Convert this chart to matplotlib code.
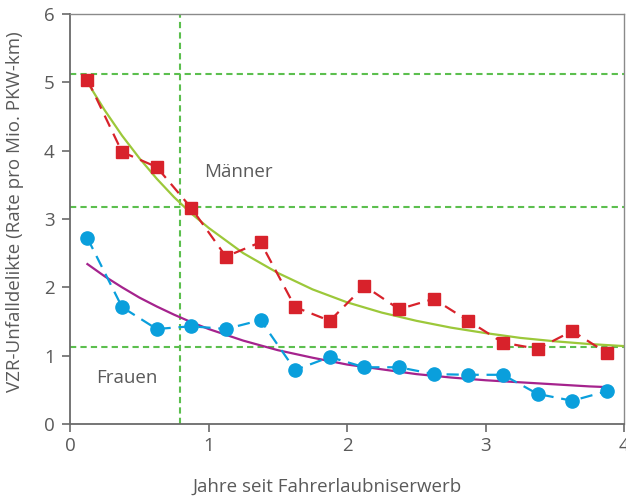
import numpy as np
import matplotlib
matplotlib.use("Agg")
import matplotlib.pyplot as plt

plt.rcParams["font.family"] = ["Open Sans", "DejaVu Sans"]

# quarterly means, years since licence
years = [0.125, 0.375, 0.625, 0.875, 1.125, 1.375, 1.625, 1.875,
         2.125, 2.375, 2.625, 2.875, 3.125, 3.375, 3.625, 3.875]
maenner = [5.04, 3.98, 3.76, 3.16, 2.45, 2.66, 1.71, 1.51,
           2.02, 1.68, 1.83, 1.51, 1.19, 1.10, 1.36, 1.04]
frauen = [2.72, 1.71, 1.39, 1.43, 1.39, 1.52, 0.79, 0.98,
          0.83, 0.83, 0.73, 0.72, 0.72, 0.44, 0.34, 0.48]

# trend curves
trend_m_x = [0.125, 0.25, 0.375, 0.5, 0.625, 0.75, 0.875, 1.0, 1.25, 1.5, 1.75,
             2.0, 2.25, 2.5, 2.75, 3.0, 3.25, 3.5, 3.75, 4.0]
trend_m_y = [5.00, 4.59, 4.22, 3.89, 3.59, 3.32, 3.08, 2.87, 2.50, 2.21, 1.97,
             1.78, 1.63, 1.51, 1.41, 1.33, 1.26, 1.21, 1.17, 1.14]
trend_f_x = [0.125, 0.25, 0.375, 0.5, 0.625, 0.75, 0.875, 1.0, 1.25, 1.5, 1.75,
             2.0, 2.25, 2.5, 2.75, 3.0, 3.25, 3.5, 3.75, 3.875]
trend_f_y = [2.34, 2.16, 2.00, 1.85, 1.72, 1.60, 1.49, 1.39, 1.22, 1.08, 0.97,
             0.87, 0.80, 0.73, 0.68, 0.64, 0.61, 0.58, 0.55, 0.54]

ref_x = 0.794
ref_y = [5.12, 3.17, 1.13]

red = "#d8222b"
blue = "#0a9fdc"
gray = "#5a5a5a"
guide = "#5cbf4e"

fig = plt.figure(figsize=(6.26, 4.98), dpi=100)
ax = fig.add_axes([0.112, 0.1486, 0.885, 0.8234])

for yv in ref_y:
    ax.axhline(yv, color=guide, lw=1.5, dashes=(3, 2), zorder=1)
ax.axvline(ref_x, color=guide, lw=1.5, dashes=(3, 2), zorder=1)

ax.plot(trend_m_x, trend_m_y, color="#9cc83a", lw=1.6, zorder=2)
ax.plot(trend_f_x, trend_f_y, color="#a5238d", lw=1.6, zorder=2)

ax.plot(years, maenner, color=red, lw=1.6, dashes=(5.5, 3.5), marker="s",
        ms=9, mec=red, mfc=red, zorder=3)
ax.plot(years, frauen, color=blue, lw=1.6, dashes=(5.5, 3.5), marker="o",
        ms=9.5, mec=blue, mfc=blue, zorder=3)

ax.text(0.97, 3.68, "Männer", fontsize=13.5, color=gray, ha="left", va="center")
ax.text(0.19, 0.68, "Frauen", fontsize=13.5, color=gray, ha="left", va="center")

ax.set_xlim(0, 4)
ax.set_ylim(0, 6)
ax.set_xticks([0, 1, 2, 3, 4])
ax.set_yticks([0, 1, 2, 3, 4, 5, 6])
for s in ["left", "bottom"]:
    ax.spines[s].set_color("#6a6a6a")
    ax.spines[s].set_linewidth(1.3)
for s in ["top", "right"]:
    ax.spines[s].set_color("#8a8a8a")
    ax.spines[s].set_linewidth(1.0)
ax.tick_params(axis="both", direction="out", length=6, width=1.2, color="#6a6a6a",
               labelcolor=gray, labelsize=13.5, top=False, right=False)
ax.tick_params(axis="y", pad=5)
ax.set_xlabel("Jahre seit Fahrerlaubniserwerb", fontsize=13.5, color=gray)
ax.xaxis.set_label_coords(0.464, -0.13)
ax.set_ylabel("VZR-Unfalldelikte (Rate pro Mio. PKW-km)", fontsize=13.5, color=gray)
ax.yaxis.set_label_coords(-0.083, 0.517)

fig.savefig("out.png", dpi=100)
